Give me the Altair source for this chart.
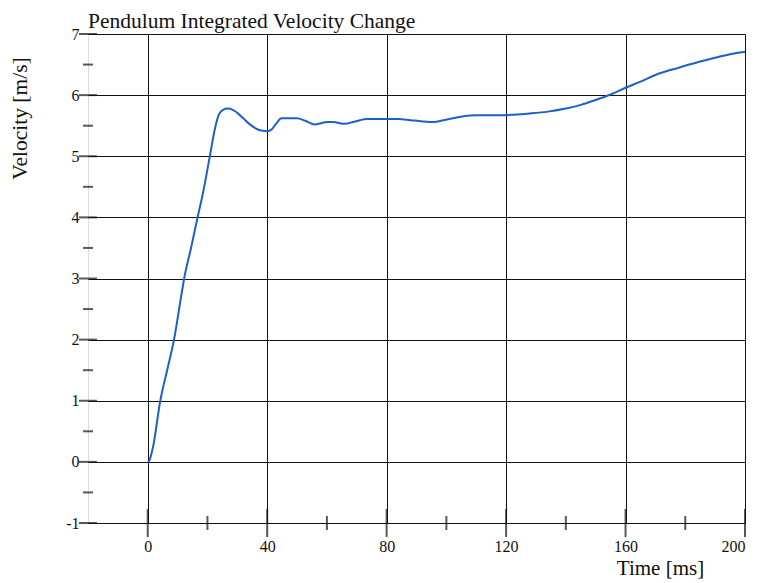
import altair as alt
import pandas as pd

# Data
time_ms = [0, 0.5, 1.8, 4.2, 6.5, 8.8, 11, 12.2, 14.5, 16.7, 18.5, 20.8, 22.5, 23.8,
           25.2, 26.8, 28.5, 30, 32, 34, 36, 38, 40, 41.5, 42.8, 44.8, 47, 50, 52.7,
           56, 58, 60, 62, 66, 68.8, 71, 73.3, 77, 81, 84, 88, 92, 95.7, 99, 103,
           106.3, 110, 113, 118, 122.5, 128, 134, 140, 145, 150, 155, 160, 165, 170,
           175, 180, 185, 190, 195, 200]
velocity = [0, 0.02, 0.25, 1.0, 1.5, 2.0, 2.65, 3.0, 3.5, 4.0, 4.4, 5.0, 5.45, 5.68,
            5.76, 5.78, 5.76, 5.71, 5.62, 5.53, 5.46, 5.42, 5.41, 5.44, 5.52, 5.62, 5.62,
            5.62, 5.58, 5.52, 5.54, 5.56, 5.56, 5.53, 5.56, 5.59, 5.61, 5.61, 5.61, 5.61,
            5.59, 5.57, 5.56, 5.59, 5.63, 5.66, 5.67, 5.67, 5.67, 5.68, 5.70, 5.73, 5.78,
            5.84, 5.92, 6.01, 6.12, 6.22, 6.33, 6.41, 6.48, 6.55, 6.61, 6.67, 6.71]

x_labels = [0, 40, 80, 120, 160, 200]
x_minor = [20, 60, 100, 140, 180]
y_labels = [-1, 0, 1, 2, 3, 4, 5, 6, 7]
y_minor = [-0.5, 0.5, 1.5, 2.5, 3.5, 4.5, 5.5, 6.5]

FONT = "Liberation Serif"

df = pd.DataFrame({"t": time_ms, "v": velocity})
xs = alt.Scale(domain=[-20, 200], nice=False, zero=False)
ys = alt.Scale(domain=[-1, 7], nice=False, zero=False)

line = alt.Chart(df).mark_line(color="#1f5fc8", strokeWidth=2, interpolate="monotone").encode(
    x=alt.X("t:Q", scale=xs,
            axis=alt.Axis(values=x_labels, labelExpr="'' + datum.value", grid=True,
                          gridColor="#111111", gridWidth=1, gridOpacity=1, ticks=False,
                          domain=False, labelFont=FONT, labelFontSize=16,
                          labelColor="#111111", labelPadding=15, title="Time [ms]",
                          titleFont=FONT, titleFontSize=21, titleFontWeight="normal",
                          titleColor="#111111", titleX=572, titleY=45,
                          titleBaseline="middle", titleAlign="center")),
    y=alt.Y("v:Q", scale=ys,
            axis=alt.Axis(values=y_labels, labelExpr="'' + datum.value", grid=True,
                          gridColor="#111111", gridWidth=1, gridOpacity=1, ticks=False,
                          domain=False, labelFont=FONT, labelFontSize=16,
                          labelColor="#111111", labelPadding=9, title="Velocity [m/s]",
                          titleFont=FONT, titleFontSize=21.5, titleFontWeight="normal",
                          titleColor="#111111", titleX=-68, titleY=84, titleAngle=270,
                          titleAlign="center", titleBaseline="middle")),
)

xmaj = alt.Chart(pd.DataFrame({"t": x_labels})).mark_tick(
    orient="vertical", size=28, thickness=2, color="#111111").encode(
    x=alt.X("t:Q", scale=xs), y=alt.datum(-1, scale=ys))
xmin = alt.Chart(pd.DataFrame({"t": x_minor})).mark_tick(
    orient="vertical", size=14, thickness=2, color="#111111").encode(
    x=alt.X("t:Q", scale=xs), y=alt.datum(-1, scale=ys))
ymaj = alt.Chart(pd.DataFrame({"v": y_labels})).mark_tick(
    orient="horizontal", size=18, thickness=2, color="#111111").encode(
    y=alt.Y("v:Q", scale=ys), x=alt.datum(-20, scale=xs))
ymin = alt.Chart(pd.DataFrame({"v": y_minor})).mark_tick(
    orient="horizontal", size=10, thickness=2, color="#111111").encode(
    y=alt.Y("v:Q", scale=ys), x=alt.datum(-20, scale=xs))

chart = alt.layer(line, xmaj, xmin, ymaj, ymin).properties(
    width=657, height=489,
    autosize=alt.AutoSizeParams(type="none"),
    padding={"left": 80, "top": 26, "right": 4, "bottom": 59},
    title=alt.TitleParams("Pendulum Integrated Velocity Change", font=FONT, fontSize=21.5,
                          fontWeight="normal", color="#111111", anchor="start",
                          frame="group", offset=8, dy=14),
).configure_view(stroke="#111111", strokeWidth=2.5).configure(background="white")

chart.save("out.html", embed_options={"renderer": "svg", "actions": False})
